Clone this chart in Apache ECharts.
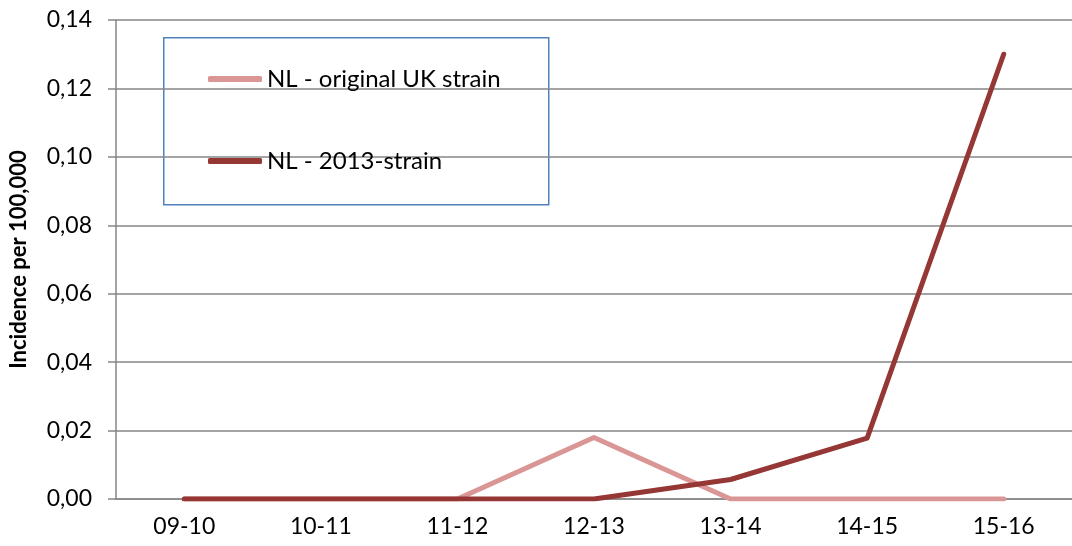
<!DOCTYPE html>
<html>
<head>
<meta charset="utf-8">
<script src="https://cdn.jsdelivr.net/npm/echarts@6/dist/echarts.min.js"></script>
<style>
  html, body { margin: 0; padding: 0; background: #fff; }
  #chart { width: 1072px; height: 546px; }
</style>
</head>
<body>
<div id="chart"></div>
<script>
const seasons = ['09-10', '10-11', '11-12', '12-13', '13-14', '14-15', '15-16'];
const originalUK = [0, 0, 0, 0.018, 0, 0, 0];
const strain2013 = [0, 0, 0, 0, 0.0057, 0.0178, 0.130];
const seriesNames = ['NL - original UK strain', 'NL - 2013-strain'];
const seriesColors = ['#D99694', '#953735'];

const font = 'Lato, "Open Sans", sans-serif';
const grey = '#868686';

const chart = echarts.init(document.getElementById('chart'));

function lineSeries(name, data, color) {
  return {
    name: name,
    type: 'line',
    data: data,
    symbol: 'none',
    color: color,
    lineStyle: { width: 5, color: color, cap: 'round', join: 'round' },
  };
}

chart.setOption({
  animation: false,
  textStyle: { fontFamily: font },
  grid: { left: 115, right: 0, top: 20, bottom: 47 },
  xAxis: {
    type: 'category',
    data: seasons,
    axisLine: { lineStyle: { color: grey, width: 1.5 } },
    axisTick: { length: 8, lineStyle: { color: grey, width: 1.5 } },
    axisLabel: { color: '#000', fontSize: 23, margin: 16, fontFamily: font },
  },
  yAxis: {
    type: 'value',
    min: 0,
    max: 0.14,
    interval: 0.02,
    name: 'Incidence per 100,000',
    nameLocation: 'middle',
    nameRotate: 90,
    nameGap: 86,
    nameTextStyle: { color: '#000', fontSize: 22, fontWeight: 'bold', fontFamily: font },
    axisLine: { show: true, lineStyle: { color: grey, width: 1.5 } },
    axisTick: { show: true, length: 8, lineStyle: { color: grey, width: 1.5 } },
    axisLabel: {
      color: '#000',
      fontSize: 23,
      margin: 24,
      fontFamily: font,
      formatter: v => v.toFixed(2).replace('.', ','),
    },
    splitLine: { lineStyle: { color: grey, width: 1.5 } },
  },
  legend: {
    orient: 'vertical',
    left: 203,
    top: 60,
    itemWidth: 54,
    itemHeight: 6,
    itemGap: 54,
    icon: 'roundRect',
    textStyle: { color: '#000', fontSize: 24, lineHeight: 28, fontFamily: font },
    data: seriesNames,
  },
  graphic: [{
    type: 'rect',
    left: 163,
    top: 37,
    z: -1,
    shape: { width: 385, height: 167 },
    style: { fill: '#fff', stroke: '#4F81BD', lineWidth: 1.5 },
  }],
  series: [
    lineSeries(seriesNames[0], originalUK, seriesColors[0]),
    lineSeries(seriesNames[1], strain2013, seriesColors[1]),
  ],
});
</script>
</body>
</html>
